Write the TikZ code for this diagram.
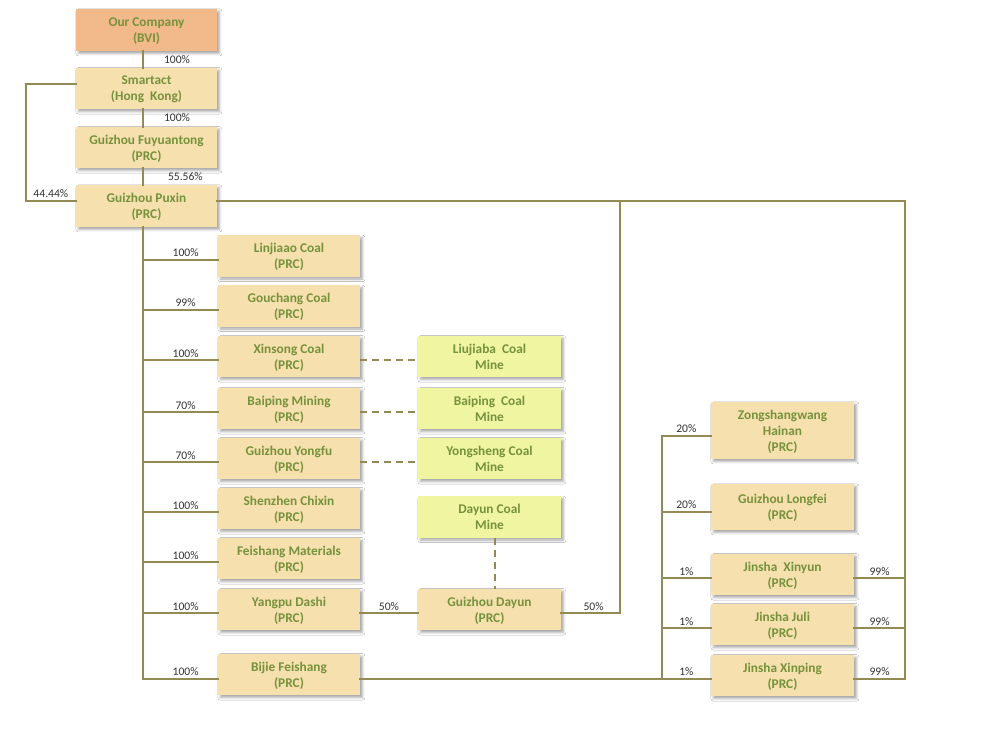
\documentclass[tikz,border=0pt]{standalone}
\usepackage{fontspec}
\setmainfont{Carlito}
\usetikzlibrary{shadows.blur,calc}
\definecolor{boxfill}{HTML}{F6E0AD}
\definecolor{orgfill}{HTML}{F2B98A}
\definecolor{minefill}{HTML}{F0F5A2}
\definecolor{txt}{HTML}{76923C}
\definecolor{ln}{HTML}{948A54}
\definecolor{pcttxt}{HTML}{333333}
\begin{document}
\begin{tikzpicture}[x=0.75pt,y=-0.75pt,
  cbox/.style={fill=boxfill, text=txt, font=\bfseries\fontsize{10}{12}\selectfont, align=center, inner sep=0pt,
    text depth=0pt, minimum width=106.5pt, minimum height=31pt,
    blur shadow={shadow xshift=1.8pt, shadow yshift=-1.8pt, shadow blur steps=4, shadow opacity=35}},
  mine/.style={cbox, fill=minefill, minimum width=107.25pt},
  rbox/.style={cbox, minimum width=107.25pt},
  conn/.style={draw=ln, line width=1.5pt, line cap=rect},
  dconn/.style={draw=ln, line width=1.5pt, dash pattern=on 5pt off 4pt},
  pct/.style={font=\fontsize{8.7}{10}\selectfont, text=pcttxt, inner sep=1.5pt}]
\fill[white] (0,0) rectangle (1000,730);
\useasboundingbox (0,0) rectangle (1000,730);

% top chain
\node[cbox, fill=orgfill, minimum width=105.75pt, minimum height=31.5pt] (comp) at (146.5,30) {Our Company\\(BVI)};
\node[cbox, minimum width=105.75pt] (smart) at (146.5,88.5) {Smartact\\(Hong~~Kong)};
\node[cbox, minimum width=105.75pt] (fuy) at (146.5,147.5) {Guizhou Fuyuantong\\(PRC)};
\node[cbox, minimum width=105.75pt, minimum height=31.5pt] (pux) at (146.5,206) {Guizhou Puxin\\(PRC)};

% left column
\node[cbox] (lin) at (289,256) {Linjiaao Coal\\(PRC)};
\node[cbox] (gou) at (289,306) {Gouchang Coal\\(PRC)};
\node[cbox] (xin) at (289,356.5) {Xinsong Coal\\(PRC)};
\node[cbox] (bai) at (289,408.5) {Baiping Mining\\(PRC)};
\node[cbox] (yon) at (289,458.5) {Guizhou Yongfu\\(PRC)};
\node[cbox] (she) at (289,508.5) {Shenzhen Chixin\\(PRC)};
\node[cbox] (fei) at (289,558.5) {Feishang Materials\\(PRC)};
\node[cbox] (yan) at (289,609.5) {Yangpu Dashi\\(PRC)};
\node[cbox] (bij) at (289,674.5) {Bijie Feishang\\(PRC)};

% mines
\node[mine] (liu) at (489.5,356.5) {Liujiaba~~Coal\\Mine};
\node[mine] (bcm) at (489.5,408.5) {Baiping~~Coal\\Mine};
\node[mine] (ysm) at (489.5,458.5) {Yongsheng Coal\\Mine};
\node[mine] (dcm) at (489.5,517) {Dayun Coal\\Mine};
\node[rbox] (day) at (489.5,609.5) {Guizhou Dayun\\(PRC)};

% right column
\node[rbox, minimum height=42.75pt] (zon) at (782.5,430.5) {Zongshangwang\\Hainan\\(PRC)};
\node[rbox, minimum height=34.5pt] (lon) at (782.5,507) {Guizhou Longfei\\(PRC)};
\node[rbox] (xiy) at (782.5,574.5) {Jinsha~~Xinyun\\(PRC)};
\node[rbox] (jul) at (782.5,624.5) {Jinsha Juli\\(PRC)};
\node[rbox] (xip) at (782.5,675.5) {Jinsha Xinping\\(PRC)};

% helper coordinates
\coordinate (tr) at (143,0);
\coordinate (rt) at (905,0);
\coordinate (dv) at (620,0);
\coordinate (lv) at (662,0);
\coordinate (lft) at (26,0);
\coordinate (sm-w) at ([yshift=3.4pt]smart.west);
\coordinate (px-w) at ([yshift=3.75pt]pux.west);
\coordinate (px-e) at ([yshift=3.75pt]pux.east);
\coordinate (yan-e) at ([yshift=-3pt]yan.east);
\coordinate (bij-e) at ([yshift=-3pt]bij.east);
\coordinate (zon-w) at ([yshift=-4pt]zon.west);
\coordinate (lon-w) at ([yshift=-3.75pt]lon.west);
\coordinate (xiy-w) at ([yshift=-3pt]xiy.west);
\coordinate (jul-w) at ([yshift=-3pt]jul.west);
\coordinate (xiy-e) at ([yshift=-3pt]xiy.east);
\coordinate (jul-e) at ([yshift=-3pt]jul.east);
\coordinate (xip-e) at ([yshift=-2.5pt]xip.east);

% top connectors
\draw[conn] (comp.south -| tr) -- node[pct, right=13.5pt]{100\%} (smart.north -| tr);
\draw[conn] (smart.south -| tr) -- node[pct, right=13.5pt]{100\%} (fuy.north -| tr);
\draw[conn] (fuy.south -| tr) -- node[pct, right=16.5pt]{55.56\%} (pux.north -| tr);
\draw[conn] (sm-w) -- (lft |- sm-w) -- (lft |- px-w) -- node[pct, above]{44.44\%} (px-w);

% trunk and branches
\foreach \n/\p in {lin/100,gou/99,xin/100,bai/70,yon/70,she/100,fei/100,yan/100,bij/100}{
  \coordinate (\n-w) at ([yshift=-3pt]\n.west);
  \draw[conn] (tr |- \n-w) -- node[pct, above, pos=0.57]{\p\%} (\n-w);
}
\draw[conn] (pux.south -| tr) -- (tr |- bij-w);

% dashed mine links
\foreach \a/\b in {xin/liu, bai/bcm, yon/ysm}{
  \coordinate (\a-e) at ([yshift=-3pt]\a.east);
  \draw[dconn] (\a-e) -- (\b.west |- \a-e);
}
\draw[dconn] ([xshift=4pt]dcm.south) -- ([xshift=4pt]day.north);

% Dayun
\draw[conn] (yan-e) -- node[pct, above]{50\%} (day.west |- yan-e);
\draw[conn] (dv |- px-e) -- (dv |- yan-e) -- node[pct, above, pos=0.45]{50\%} (day.east |- yan-e);

% Puxin to right side
\draw[conn] (px-e) -- (rt |- px-e) -- (rt |- xip-e) -- node[pct, above]{99\%} (xip-e);
\draw[conn] (xiy-e) -- node[pct, above]{99\%} (rt |- xiy-e);
\draw[conn] (jul-e) -- node[pct, above]{99\%} (rt |- jul-e);

% Bijie to right group
\draw[conn] (bij-e) -- (lv |- bij-e) -- node[pct, above]{1\%} (xip.west |- bij-e);
\draw[conn] (lv |- zon-w) -- (lv |- bij-e);
\foreach \n/\p in {zon/20,lon/20,xiy/1,jul/1}{
  \draw[conn] (lv |- \n-w) -- node[pct, above]{\p\%} (\n-w);
}
\end{tikzpicture}
\end{document}
